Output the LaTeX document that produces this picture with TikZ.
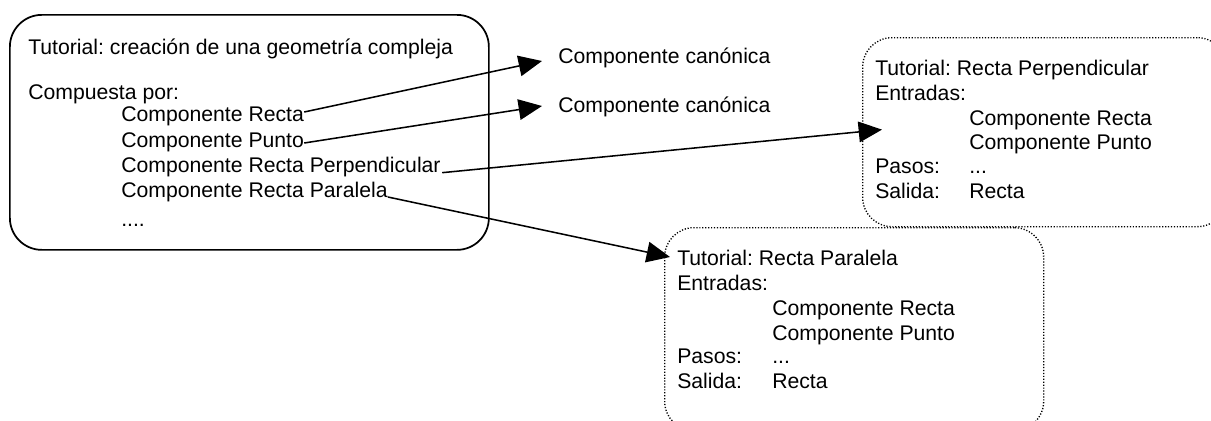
\documentclass[tikz,border=0pt]{standalone}
\usepackage{fontspec}
\setmainfont{Liberation Sans}
\usetikzlibrary{arrows.meta}
\frenchspacing
\begin{document}
\begin{tikzpicture}[x=0.75pt,y=-0.75pt,
  txt/.style={anchor=base west, inner sep=0pt, font=\fontsize{15.9pt}{18pt}\selectfont},
  solidbox/.style={draw, line width=1.3pt, rounded corners=24pt, inner sep=0pt, anchor=north west},
  dotbox/.style={draw, line width=1pt, dash pattern=on 0.9pt off 1.3pt, rounded corners=22pt, inner sep=0pt, anchor=north west},
  arr/.style={line width=1.15pt, -{Triangle[length=17.5pt,width=15.5pt]}}]
\useasboundingbox (0,0) rectangle (1211,421);
\clip (0,0) rectangle (1211,421);

% main box
\node[solidbox, minimum width=359.25pt, minimum height=176.25pt] (mainbox) at (9,14) {};
\node[txt] (t0) at (28,54) {Tutorial: creación de una geometría compleja};
\node[txt] (t1) at (28,99) {Compuesta por:};
\node[txt] (m1) at (121,121) {Componente Recta};
\node[txt] (m2) at (121,147) {Componente Punto};
\node[txt] (m3) at (121,172) {Componente Recta Perpendicular};
\node[txt] (m4) at (121,197) {Componente Recta Paralela};
\node[txt] (m5) at (121,226) {....};

% canonical components
\node[txt] (c1) at (558,63) {Componente canónica};
\node[txt] (c2) at (558,112) {Componente canónica};

% perpendicular box
\node[dotbox, minimum width=273pt, minimum height=141.75pt] (pbox) at (862,37) {};
\node[txt] (p1) at (875,75) {Tutorial: Recta Perpendicular};
\node[txt] (p2) at (875,100) {Entradas:};
\node[txt] (p3) at (969,125) {Componente Recta};
\node[txt] (p4) at (969,149) {Componente Punto};
\node[txt] (p5) at (875,173) {Pasos:};
\node[txt] (p6) at (969,173) {...};
\node[txt] (p7) at (875,198) {Salida:};
\node[txt] (p8) at (969,198) {Recta};

% parallel box
\node[dotbox, minimum width=284.25pt, minimum height=152.25pt] (qbox) at (664,227) {};
\node[txt] (q1) at (677,265) {Tutorial: Recta Paralela};
\node[txt] (q2) at (677,290) {Entradas:};
\node[txt] (q3) at (772,315) {Componente Recta};
\node[txt] (q4) at (772,340) {Componente Punto};
\node[txt] (q5) at (677,363) {Pasos:};
\node[txt] (q6) at (772,363) {...};
\node[txt] (q7) at (677,388) {Salida:};
\node[txt] (q8) at (772,388) {Recta};

% arrows
\draw[arr] ([yshift=6.75pt]m1.base east) -- ([xshift=-12pt,yshift=1.5pt]c1.base west);
\draw[arr] ([yshift=3pt]m2.base east) -- ([xshift=-12pt,yshift=4.5pt]c2.base west);
\draw[arr] ([xshift=1pt,yshift=-0.5pt]m3.base east) -- ([xshift=15pt,yshift=1.9pt]pbox.west);
\draw[arr] (m4.base east) -- ([xshift=-5.25pt,yshift=6pt]q1.base west);
\end{tikzpicture}
\end{document}
